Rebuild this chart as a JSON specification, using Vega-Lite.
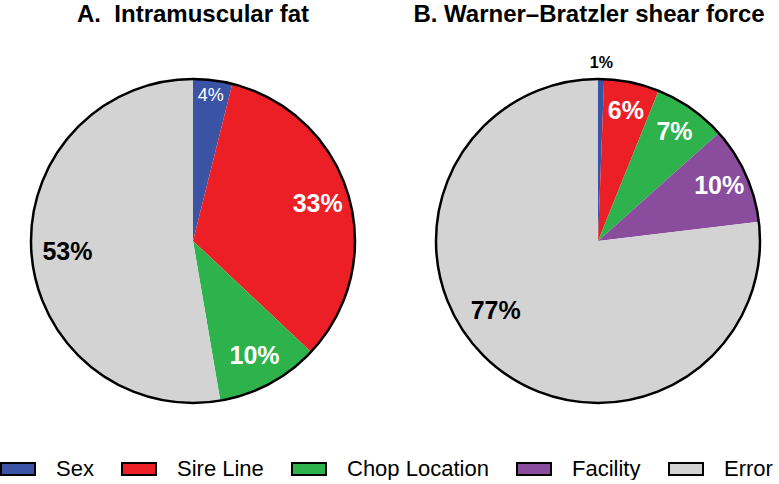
{
  "$schema": "https://vega.github.io/schema/vega-lite/v6.json",
  "padding": {"left": 0, "top": 3, "right": 0, "bottom": 0},
  "spacing": 27,
  "datasets": {
    "imf": [
      {"category": "Sex", "rank": 1, "value": 3.9, "label": "4%"},
      {"category": "Sire Line", "rank": 2, "value": 33.1, "label": "33%"},
      {"category": "Chop Location", "rank": 3, "value": 10.3, "label": "10%"},
      {"category": "Error", "rank": 5, "value": 52.7, "label": "53%"}
    ],
    "wbsf": [
      {"category": "Sex", "rank": 1, "value": 0.6, "label": "1%"},
      {"category": "Sire Line", "rank": 2, "value": 5.5, "label": "6%"},
      {"category": "Chop Location", "rank": 3, "value": 7.3, "label": "7%"},
      {"category": "Facility", "rank": 4, "value": 9.7, "label": "10%"},
      {"category": "Error", "rank": 5, "value": 76.9, "label": "77%"}
    ],
    "outline": [{"shape": "circle"}]
  },
  "hconcat": [
    {
      "title": {"text": "A.\u00a0\u00a0Intramuscular fat", "offset": 14},
      "width": 386,
      "height": 400,
      "data": {"name": "imf"},
      "encoding": {
        "theta": {"field": "value", "type": "quantitative", "stack": true},
        "order": {"field": "rank", "type": "quantitative"}
      },
      "layer": [
        {
          "mark": {"type": "arc", "outerRadius": 162},
          "encoding": {
            "color": {"field": "category", "type": "nominal",
              "scale": {"domain": ["Sex", "Sire Line", "Chop Location", "Facility", "Error"], "range": ["#3A53A4", "#EC1F26", "#2EB24B", "#8A4D9E", "#D3D3D3"]}}
          }
        },
        {
          "mark": {"type": "text", "radius": 130, "fontSize": 25, "fontWeight": "bold", "color": "white"},
          "encoding": {
            "text": {"condition": {"test": "datum.category === 'Sire Line' || datum.category === 'Chop Location'", "field": "label"}, "value": ""}
          }
        },
        {
          "mark": {"type": "text", "radius": 126, "fontSize": 25, "fontWeight": "bold", "color": "black"},
          "encoding": {
            "text": {"condition": {"test": "datum.category === 'Error'", "field": "label"}, "value": ""}
          }
        },
        {
          "mark": {"type": "text", "radius": 146, "fontSize": 18, "fontWeight": "normal", "color": "white"},
          "encoding": {
            "text": {"condition": {"test": "datum.category === 'Sex'", "field": "label"}, "value": ""}
          }
        },
        {
          "data": {"name": "outline"},
          "mark": {"type": "arc", "theta": 0, "theta2": 6.2832, "outerRadius": 162, "filled": false, "stroke": "black", "strokeWidth": 2.5},
          "encoding": {"order": null, "theta": null}
        }
      ]
    },
    {
      "title": {"text": "B. Warner\u2013Bratzler shear force", "offset": 14, "dx": -9},
      "width": 362,
      "height": 400,
      "data": {"name": "wbsf"},
      "encoding": {
        "theta": {"field": "value", "type": "quantitative", "stack": true},
        "order": {"field": "rank", "type": "quantitative"}
      },
      "layer": [
        {
          "mark": {"type": "arc", "outerRadius": 162},
          "encoding": {
            "color": {"field": "category", "type": "nominal",
              "scale": {"domain": ["Sex", "Sire Line", "Chop Location", "Facility", "Error"], "range": ["#3A53A4", "#EC1F26", "#2EB24B", "#8A4D9E", "#D3D3D3"]}}
          }
        },
        {
          "mark": {"type": "text", "radius": 133, "fontSize": 25, "fontWeight": "bold", "color": "white"},
          "encoding": {
            "text": {"condition": {"test": "datum.category === 'Sire Line' || datum.category === 'Chop Location' || datum.category === 'Facility'", "field": "label"}, "value": ""}
          }
        },
        {
          "mark": {"type": "text", "radius": 124, "fontSize": 25, "fontWeight": "bold", "color": "black", "dx": -20, "dy": -23},
          "encoding": {
            "text": {"condition": {"test": "datum.category === 'Error'", "field": "label"}, "value": ""}
          }
        },
        {
          "mark": {"type": "text", "radius": 178, "fontSize": 16, "fontWeight": "bold", "color": "black"},
          "encoding": {
            "text": {"condition": {"test": "datum.category === 'Sex'", "field": "label"}, "value": ""}
          }
        },
        {
          "data": {"name": "outline"},
          "mark": {"type": "arc", "theta": 0, "theta2": 6.2832, "outerRadius": 162, "filled": false, "stroke": "black", "strokeWidth": 2.5},
          "encoding": {"order": null, "theta": null}
        }
      ]
    }
  ],
  "resolve": {"scale": {"color": "shared"}},
  "config": {
    "font": "Liberation Sans",
    "view": {"stroke": null},
    "title": {"fontSize": 24, "fontWeight": "bold", "font": "Liberation Sans", "color": "black", "anchor": "middle"},
    "text": {"font": "Liberation Sans"},
    "legend": {
      "orient": "bottom",
      "direction": "horizontal",
      "title": null,
      "symbolType": "M-1,-0.35H1V0.35H-1Z",
      "symbolSize": 1156,
      "symbolStrokeColor": "black",
      "symbolStrokeWidth": 2,
      "symbolOpacity": 1,
      "labelFont": "Liberation Sans",
      "labelFontSize": 22,
      "labelColor": "black",
      "labelOffset": 20,
      "columnPadding": 24,
      "offset": 10,
      "padding": 0,
      "labelLimit": 400
    },
    "arc": {"stroke": null}
  }
}
